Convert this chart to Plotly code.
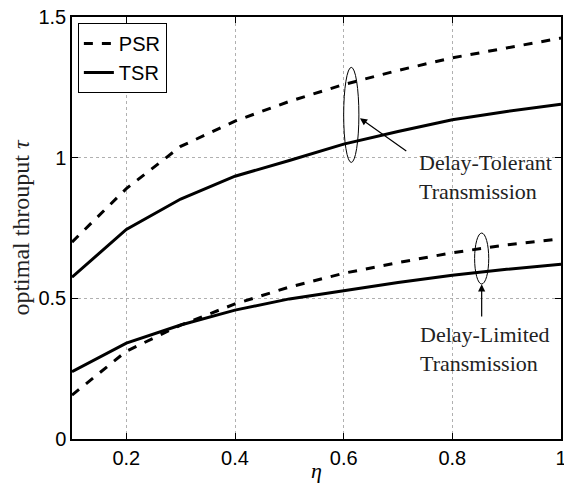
import plotly.graph_objects as go

eta = [0.1, 0.2, 0.3, 0.4, 0.5, 0.6, 0.7, 0.8, 0.9, 1.0]
psr_tolerant = [0.70, 0.89, 1.04, 1.13, 1.20, 1.26, 1.31, 1.355, 1.39, 1.425]
tsr_tolerant = [0.575, 0.745, 0.853, 0.934, 0.99, 1.048, 1.093, 1.135, 1.164, 1.19]
psr_limited = [0.156, 0.312, 0.405, 0.48, 0.54, 0.589, 0.627, 0.662, 0.69, 0.712]
tsr_limited = [0.239, 0.341, 0.405, 0.458, 0.498, 0.528, 0.556, 0.582, 0.603, 0.621]

serif = "Liberation Serif"
sans = "Liberation Sans"

fig = go.Figure()
fig.add_trace(go.Scatter(x=eta, y=psr_tolerant, mode="lines", name="PSR",
                         line=dict(color="black", width=3, dash="dash")))
fig.add_trace(go.Scatter(x=eta, y=tsr_tolerant, mode="lines", name="TSR",
                         line=dict(color="black", width=3)))
fig.add_trace(go.Scatter(x=eta, y=psr_limited, mode="lines", showlegend=False,
                         line=dict(color="black", width=3, dash="dash")))
fig.add_trace(go.Scatter(x=eta, y=tsr_limited, mode="lines", showlegend=False,
                         line=dict(color="black", width=3)))

# ellipses
fig.add_shape(type="circle", xref="x", yref="y", x0=0.600, x1=0.628, y0=0.983, y1=1.321,
              line=dict(color="black", width=1))
fig.add_shape(type="circle", xref="x", yref="y", x0=0.841, x1=0.867, y0=0.551, y1=0.732,
              line=dict(color="black", width=1))

# arrows
fig.add_annotation(x=0.63, y=1.14, ax=0.718, ay=1.02, xref="x", yref="y", axref="x", ayref="y",
                   text="", showarrow=True, arrowhead=2, arrowsize=1.2, arrowwidth=1.2, arrowcolor="black")
fig.add_annotation(x=0.854, y=0.55, ax=0.854, ay=0.43, xref="x", yref="y", axref="x", ayref="y",
                   text="", showarrow=True, arrowhead=2, arrowsize=1.2, arrowwidth=1.2, arrowcolor="black")

fig.add_annotation(x=0.735, y=1.035, xref="x", yref="y", xanchor="left", yanchor="top",
                   text="Delay-Tolerant<br>Transmission", showarrow=False, align="left",
                   font=dict(family=serif, size=22, color="#222"))
fig.add_annotation(x=0.737, y=0.422, xref="x", yref="y", xanchor="left", yanchor="top",
                   text="Delay-Limited<br>Transmission", showarrow=False, align="left",
                   font=dict(family=serif, size=22, color="#222"))

# x-axis title (eta)
fig.add_annotation(x=0.5, y=-0.074, xref="paper", yref="paper", xanchor="center", yanchor="middle",
                   text="<i>η</i>", showarrow=False, font=dict(family=serif, size=22, color="black"))

axis_common = dict(showline=True, linecolor="black", linewidth=1.5, mirror="ticks",
                   ticks="inside", ticklen=6, tickcolor="black", tickwidth=1,
                   showgrid=True, gridcolor="#b0b0b0", griddash="dot", gridwidth=1,
                   zeroline=False, automargin=False, ticklabeloverflow="allow",
                   tickfont=dict(family=sans, size=20, color="black"))

fig.update_xaxes(range=[0.1, 1.0], tickvals=[0.2, 0.4, 0.6, 0.8, 1.0], ticktext=["0.2", "0.4", "0.6", "0.8", "1"],
                 **axis_common)
fig.update_yaxes(range=[0, 1.5], tickvals=[0, 0.5, 1.0, 1.5], ticktext=["0", "0.5", "1", "1.5"],
                 title=dict(text="optimal throuput <i>τ</i>", font=dict(family=serif, size=24, color="#222"), standoff=2),
                 **axis_common)

fig.update_layout(
    width=564, height=487,
    margin=dict(l=72, r=3, t=17, b=48),
    plot_bgcolor="white", paper_bgcolor="white",
    legend=dict(x=0.012, y=0.986, xanchor="left", yanchor="top",
                bgcolor="white", bordercolor="black", borderwidth=1,
                font=dict(family=sans, size=20, color="black"),
                tracegroupgap=0, itemwidth=30),
)

fig.write_html("out.html", config={"displayModeBar": False},
               post_script="document.body.style.margin='0';document.body.style.overflow='hidden';")
